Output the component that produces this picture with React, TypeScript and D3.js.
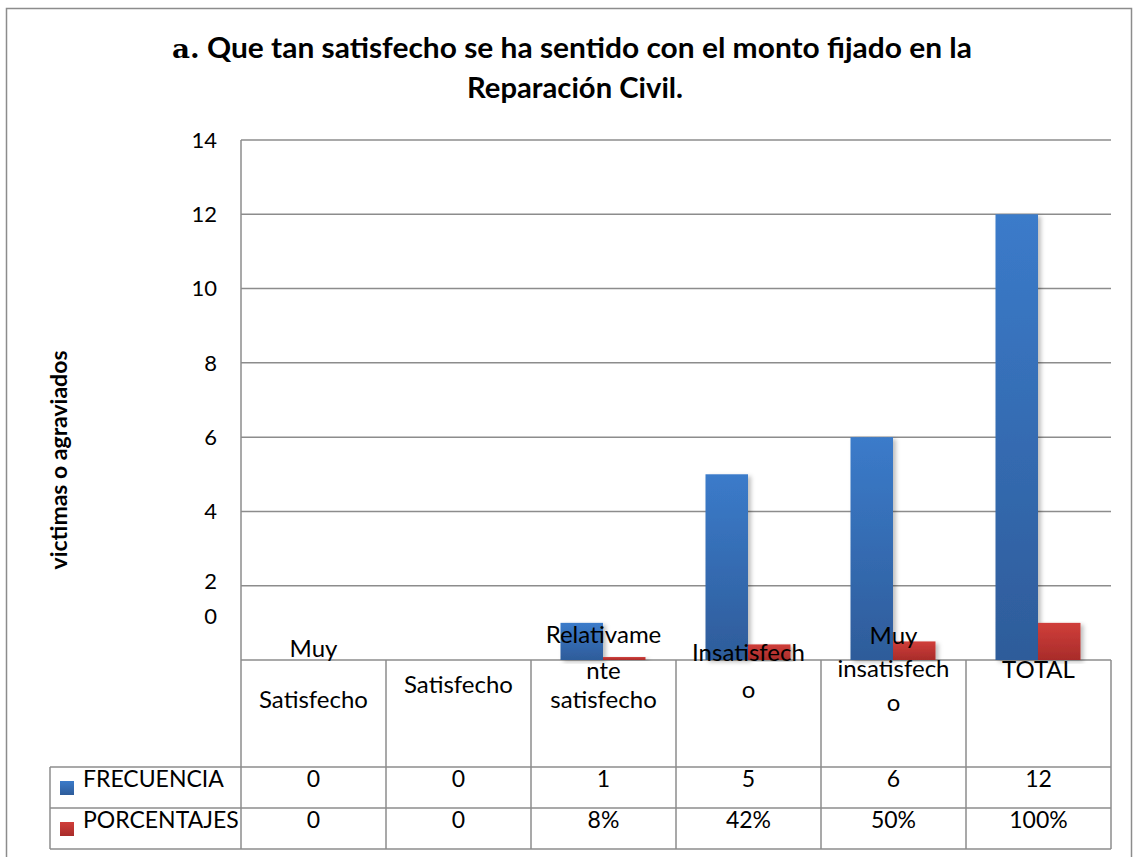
import React from "react";
import * as d3 from "d3";

const categories = ["Muy Satisfecho", "Satisfecho", "Relativamente satisfecho", "Insatisfecho", "Muy insatisfecho", "TOTAL"];
const frecuencia = [0, 0, 1, 5, 6, 12];
const porcentajes = [0, 0, 0.08, 0.42, 0.5, 1];
const frecuenciaLabels = ["0", "0", "1", "5", "6", "12"];
const porcentajeLabels = ["0", "0", "8%", "42%", "50%", "100%"];
const seriesNames = ["FRECUENCIA", "PORCENTAJES"];
const yTicks = [0, 2, 4, 6, 8, 10, 12, 14];
const categoryLines = [
  ["Muy", "Satisfecho"],
  ["Satisfecho"],
  ["Relativame", "nte", "satisfecho"],
  ["Insatisfech", "o"],
  ["Muy", "insatisfech", "o"],
  ["TOTAL"],
];
const titleLine1 = "Que tan satisfecho se ha sentido con el monto fijado  en la";
const titleLine2 = "Reparación Civil.";
const yAxisTitle = "victimas o agraviados";

// layout: vertical centers of each wrapped category line
const catLineY = [
  [649, 700],
  [685],
  [635, 671, 700],
  [653, 690],
  [636, 669, 703],
  [670],
];

const FONT = "Lato, 'Open Sans', sans-serif";

export default function App() {
  const left = 241, right = 1111, top = 140, bottom = 660;
  const tableLeft = 50, rowTop = 767, rowMid = 808, rowBot = 849;
  const y = d3.scaleLinear().domain([0, 14]).range([bottom, top]);
  const x = d3.scaleBand<string>().domain(categories).range([left, right]);
  const inner = d3.scaleBand<string>().domain(seriesNames).range([-43, 42]);
  const series = [frecuencia, porcentajes];
  const fills = ["url(#gBlue)", "url(#gRed)"];
  const grid = "#8c8c8c";

  const tickLabelY = (v: number) => (v === 0 ? y(1.18) : v === 2 ? y(2.12) : y(v));

  return (
    <svg width={1133} height={857} style={{ position: "absolute", left: 0, top: 0, background: "#fff" }} fontFamily={FONT}>
      <defs>
        <linearGradient id="gBlue" x1="0" y1="0" x2="0" y2="1">
          <stop offset="0" stopColor="#3b7bca" />
          <stop offset="1" stopColor="#2e5c9a" />
        </linearGradient>
        <linearGradient id="gRed" x1="0" y1="0" x2="0" y2="1">
          <stop offset="0" stopColor="#d03e3a" />
          <stop offset="1" stopColor="#a82c2a" />
        </linearGradient>
        <filter id="shadow" x="-20%" y="-5%" width="150%" height="115%">
          <feDropShadow dx="3" dy="2" stdDeviation="2" floodColor="#000" floodOpacity="0.25" />
        </filter>
      </defs>

      <rect x={6.5} y={8.5} width={1125} height={860} fill="#fff" stroke="#8c8c8c" strokeWidth={1.5} />

      {/* Title */}
      <text x={172} y={58} textLength={800} lengthAdjust="spacingAndGlyphs" fontWeight="bold" fontSize={28} fill="#000">
        <tspan fontFamily="'DejaVu Serif', 'Liberation Serif', serif" fontSize={26}>a.</tspan>
        <tspan> {titleLine1}</tspan>
      </text>
      <text x={467} y={98} textLength={216} lengthAdjust="spacingAndGlyphs" fontWeight="bold" fontSize={28} fill="#000">
        {titleLine2}
      </text>

      {/* Y axis title */}
      <text transform={`translate(67,460) rotate(-90)`} textAnchor="middle" fontWeight="bold" fontSize={23} fill="#000">
        {yAxisTitle}
      </text>

      {/* gridlines */}
      {yTicks.map((v) => (
        <line key={v} x1={left} x2={right} y1={y(v)} y2={y(v)} stroke={grid} strokeWidth={1.5} />
      ))}
      {/* tick labels */}
      {yTicks.map((v) => (
        <text key={"t" + v} x={217} y={tickLabelY(v)} dy="0.35em" textAnchor="end" fontSize={22} fill="#000">
          {v}
        </text>
      ))}

      {/* bars */}
      {categories.map((c, i) => {
        const cx = (x(c) as number) + x.bandwidth() / 2;
        return seriesNames.map((s, si) => {
          const v = series[si][i];
          if (v <= 0) return null;
          return (
            <rect
              key={c + s}
              x={cx + (inner(s) as number)}
              y={y(v)}
              width={inner.bandwidth()}
              height={y(0) - y(v)}
              fill={fills[si]}
              filter="url(#shadow)"
            />
          );
        });
      })}

      {/* category labels */}
      {categories.map((c, i) => {
        const cx = (x(c) as number) + x.bandwidth() / 2;
        return categoryLines[i].map((ln, li) => (
          <text key={c + li} x={cx} y={catLineY[i][li]} dy="0.35em" textAnchor="middle" fontSize={24} fill="#000">
            {ln}
          </text>
        ));
      })}

      {/* table lines */}
      <line x1={left} x2={left} y1={top} y2={rowBot} stroke={grid} strokeWidth={1.5} />
      {categories.map((c, i) => (
        <line key={"v" + i} x1={(x(c) as number) + x.bandwidth()} x2={(x(c) as number) + x.bandwidth()} y1={bottom} y2={rowBot} stroke={grid} strokeWidth={1.5} />
      ))}
      <line x1={tableLeft} x2={tableLeft} y1={rowTop} y2={rowBot} stroke={grid} strokeWidth={1.5} />
      {[rowTop, rowMid, rowBot].map((ry) => (
        <line key={"h" + ry} x1={tableLeft} x2={right} y1={ry} y2={ry} stroke={grid} strokeWidth={1.5} />
      ))}

      {/* legend keys and row names */}
      {seriesNames.map((s, si) => {
        const ry = si === 0 ? rowTop : rowMid;
        return (
          <g key={s}>
            <rect x={60} y={ry + 14} width={14} height={14} fill={fills[si]} />
            <text x={83} y={ry + 12} dy="0.35em" fontSize={23} fill="#000">
              {s}
            </text>
          </g>
        );
      })}
      {categories.map((c, i) => {
        const cx = (x(c) as number) + x.bandwidth() / 2;
        return (
          <g key={"vals" + c}>
            <text x={cx} y={rowTop + 12} dy="0.35em" textAnchor="middle" fontSize={23} fill="#000">
              {frecuenciaLabels[i]}
            </text>
            <text x={cx} y={rowMid + 12} dy="0.35em" textAnchor="middle" fontSize={23} fill="#000">
              {porcentajeLabels[i]}
            </text>
          </g>
        );
      })}
    </svg>
  );
}
